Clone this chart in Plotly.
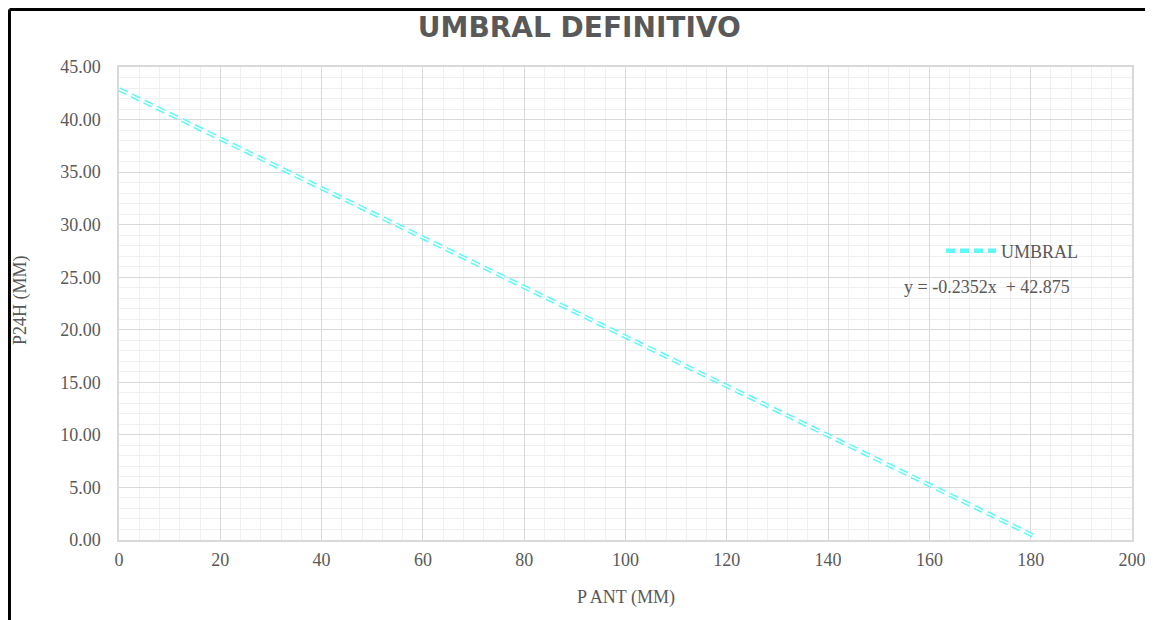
import plotly.graph_objects as go

# Data
p_ant = [0, 60, 120, 181]
p24h = [42.88, 28.76, 14.65, 0.30]
series_name = "UMBRAL"
equation = "y = -0.2352x  + 42.875"
title_text = "UMBRAL DEFINITIVO"
x_title = "P ANT (MM)"
y_title = "P24H (MM)"

grey = "#595959"
serif = "Liberation Serif, Times New Roman, serif"
cyan = "#5ff8f8"
dash = "9px,5px"

fig = go.Figure()
fig.add_trace(go.Scatter(
    x=p_ant, y=p24h, mode="lines", name=series_name,
    line=dict(color=cyan, width=4.5, dash=dash),
    showlegend=True,
))
fig.add_trace(go.Scatter(
    x=p_ant, y=p24h, mode="lines", name=series_name,
    line=dict(color="white", width=1.5, dash=dash),
    showlegend=False, hoverinfo="skip",
))

fig.update_layout(
    width=1153, height=620,
    margin=dict(l=111, r=29, t=59, b=88),
    paper_bgcolor="white", plot_bgcolor="white",
    title=dict(text=title_text, x=0.4955, xanchor="center", y=0.969, yanchor="middle",
               font=dict(family="DejaVu Sans", size=28, color=grey, weight="bold")),
    font=dict(family=serif, size=18, color=grey),
    legend=dict(x=0.8115, y=0.611, xanchor="left", yanchor="middle",
                bgcolor="rgba(0,0,0,0)", font=dict(family=serif, size=18, color=grey),
                itemwidth=50),
    showlegend=True,
    annotations=[
        dict(text=equation, x=0.8569, y=0.5349, xref="paper", yref="paper",
             xanchor="center", yanchor="middle",
             showarrow=False, font=dict(family=serif, size=18, color=grey)),
        dict(text=y_title, x=-0.0967, y=0.5074, xref="paper", yref="paper",
             xanchor="center", yanchor="middle", textangle=-90,
             showarrow=False, font=dict(family=serif, size=18, color=grey)),
        dict(text=x_title, x=0.5005, y=-0.1226, xref="paper", yref="paper",
             xanchor="center", yanchor="middle",
             showarrow=False, font=dict(family=serif, size=18, color=grey)),
    ],
    shapes=[
        dict(type="line", xref="paper", yref="paper", x0=-0.1081, x1=-0.1081, y0=-0.3, y1=1.1216,
             line=dict(color="black", width=3)),
        dict(type="line", xref="paper", yref="paper", x0=-0.1081, x1=1.1, y0=1.1216, y1=1.1216,
             line=dict(color="black", width=3)),
    ],
)

fig.update_xaxes(
    range=[0, 200], dtick=20, tick0=0, showgrid=True, gridcolor="#d9d9d9", gridwidth=1,
    minor=dict(dtick=4, showgrid=True, gridcolor="#f0f0f0", gridwidth=1),
    showline=True, linecolor="#d9d9d9", linewidth=1.5, mirror=True, zeroline=False,
    ticks="", ticklabelstandoff=3, automargin=False,
)
fig.update_yaxes(
    range=[0, 45], dtick=5, tick0=0, tickformat=".2f", showgrid=True, gridcolor="#d9d9d9", gridwidth=1,
    minor=dict(dtick=1, showgrid=True, gridcolor="#f0f0f0", gridwidth=1),
    showline=True, linecolor="#d9d9d9", linewidth=1.5, mirror=True, zeroline=False,
    ticks="", ticklabelstandoff=13, automargin=False,
)

fig.write_html("out.html")
